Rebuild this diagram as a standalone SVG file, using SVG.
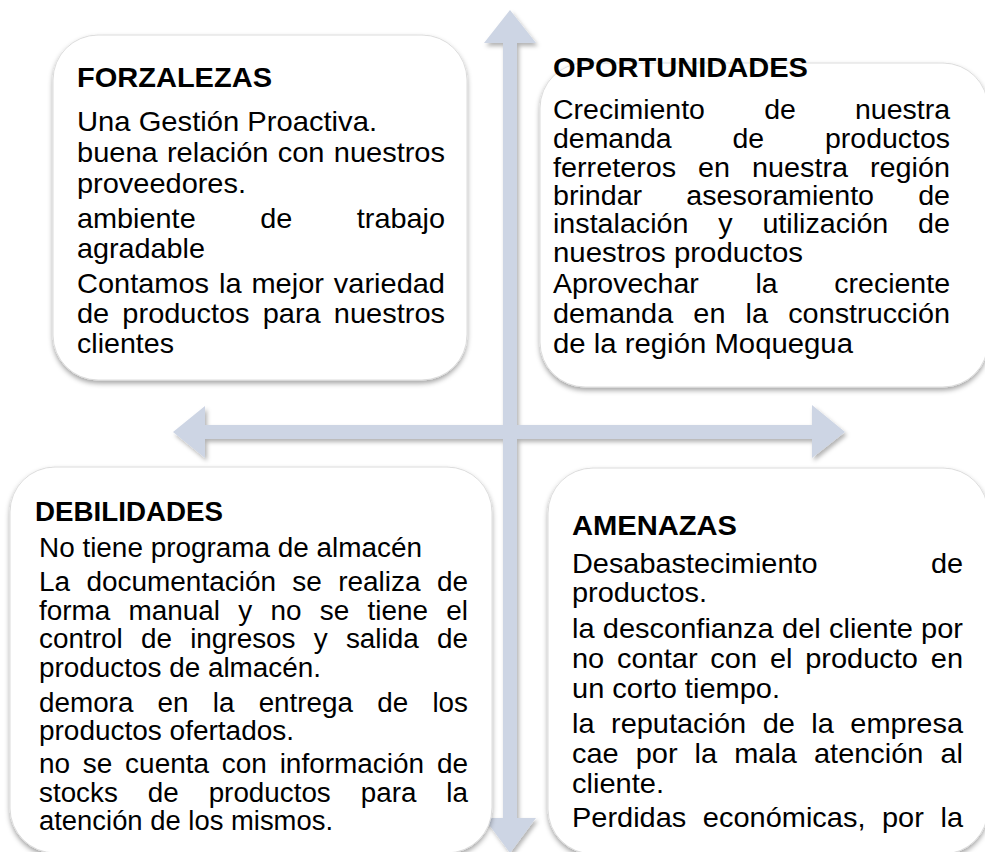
<svg xmlns="http://www.w3.org/2000/svg" width="985" height="852" viewBox="0 0 985 852">
<defs>
<filter id="sh" x="-10%" y="-10%" width="120%" height="120%">
<feDropShadow dx="0" dy="3" stdDeviation="2.5" flood-color="#000" flood-opacity="0.35"/>
</filter>
<filter id="ash" x="-10%" y="-10%" width="120%" height="120%">
<feDropShadow dx="2" dy="3" stdDeviation="2" flood-color="#000" flood-opacity="0.3"/>
</filter>
</defs>
<style>
.box{fill:#fff;stroke:#dcdcdc;stroke-width:1;filter:url(#sh)}
.t{font-family:"Liberation Sans",Arial,sans-serif;font-size:28.5px;fill:#000}
.s{font-size:27px}
.h{font-family:"Liberation Sans",Arial,sans-serif;font-size:28px;font-weight:bold;fill:#000}
</style>
<rect width="985" height="852" fill="#fff"/>
<g id="connectors">
<polygon filter="url(#ash)" fill="#cdd5e4" points="510,10 536,43 517,43 517,425 812,425 812,405 845,432 812,458 812,439 517,439 517,818 536,818 510,853 484,818 503,818 503,439 205,439 205,458 173,432 205,406 205,425 503,425 503,43 484,43"/>
</g>
<g id="fortalezas">
<rect class="box" x="53" y="35" width="414" height="345" rx="45"/>
<text class="h" x="77" y="87" textLength="195" lengthAdjust="spacingAndGlyphs">FORZALEZAS</text>
<text class="t" x="77" y="131" textLength="300" lengthAdjust="spacingAndGlyphs">Una Gestión Proactiva.</text>
<text class="t" x="77" y="162" textLength="368" lengthAdjust="spacingAndGlyphs" word-spacing="1.2">buena relación con nuestros</text>
<text class="t" x="77" y="192.5" textLength="169" lengthAdjust="spacingAndGlyphs">proveedores.</text>
<text class="t" x="77" y="227.7" textLength="368" lengthAdjust="spacingAndGlyphs" word-spacing="55.8">ambiente de trabajo</text>
<text class="t" x="77" y="257.7" textLength="128" lengthAdjust="spacingAndGlyphs">agradable</text>
<text class="t" x="77" y="292.7" textLength="368" lengthAdjust="spacingAndGlyphs" word-spacing="1.8">Contamos la mejor variedad</text>
<text class="t" x="77" y="322.7" textLength="368" lengthAdjust="spacingAndGlyphs" word-spacing="5">de productos para nuestros</text>
<text class="t" x="77" y="352.7" textLength="97" lengthAdjust="spacingAndGlyphs">clientes</text>
</g>
<g id="oportunidades">
<rect class="box" x="540" y="63" width="448" height="324" rx="45"/>
<text class="h" x="553" y="77" textLength="255" lengthAdjust="spacingAndGlyphs">OPORTUNIDADES</text>
<text class="t s" x="553" y="119" textLength="397" lengthAdjust="spacingAndGlyphs" word-spacing="48.6">Crecimiento de nuestra</text>
<text class="t s" x="553" y="148.3" textLength="397" lengthAdjust="spacingAndGlyphs" word-spacing="50.2">demanda de productos</text>
<text class="t s" x="553" y="176.7" textLength="397" lengthAdjust="spacingAndGlyphs" word-spacing="13.1">ferreteros en nuestra región</text>
<text class="t s" x="553" y="205" textLength="397" lengthAdjust="spacingAndGlyphs" word-spacing="34.1">brindar asesoramiento de</text>
<text class="t s" x="553" y="233.3" textLength="397" lengthAdjust="spacingAndGlyphs" word-spacing="20.6">instalación y utilización de</text>
<text class="t s" x="553" y="261.7" textLength="250" lengthAdjust="spacingAndGlyphs">nuestros productos</text>
<text class="t s" x="553" y="293.3" textLength="397" lengthAdjust="spacingAndGlyphs" word-spacing="46.2">Aprovechar la creciente</text>
<text class="t s" x="553" y="323.3" textLength="397" lengthAdjust="spacingAndGlyphs" word-spacing="11.4">demanda en la construcción</text>
<text class="t s" x="553" y="352.7" textLength="300" lengthAdjust="spacingAndGlyphs">de la región Moquegua</text>
</g>
<g id="debilidades">
<rect class="box" x="10" y="467" width="482" height="386" rx="45"/>
<text class="h" x="35" y="521" textLength="188" lengthAdjust="spacingAndGlyphs">DEBILIDADES</text>
<text class="t s" x="39" y="557" textLength="383" lengthAdjust="spacingAndGlyphs">No tiene programa de almacén</text>
<text class="t s" x="39" y="590.7" textLength="429" lengthAdjust="spacingAndGlyphs" word-spacing="8.3">La documentación se realiza de</text>
<text class="t s" x="39" y="620" textLength="429" lengthAdjust="spacingAndGlyphs" word-spacing="10.2">forma manual y no se tiene el</text>
<text class="t s" x="39" y="648" textLength="429" lengthAdjust="spacingAndGlyphs" word-spacing="10.1">control de ingresos y salida de</text>
<text class="t s" x="39" y="677" textLength="282" lengthAdjust="spacingAndGlyphs">productos de almacén.</text>
<text class="t s" x="39" y="712" textLength="429" lengthAdjust="spacingAndGlyphs" word-spacing="16">demora en la entrega de los</text>
<text class="t s" x="39" y="740" textLength="255" lengthAdjust="spacingAndGlyphs">productos ofertados.</text>
<text class="t s" x="39" y="773" textLength="429" lengthAdjust="spacingAndGlyphs" word-spacing="4.8">no se cuenta con información de</text>
<text class="t s" x="39" y="802" textLength="429" lengthAdjust="spacingAndGlyphs" word-spacing="21.6">stocks de productos para la</text>
<text class="t s" x="39" y="830" textLength="294" lengthAdjust="spacingAndGlyphs">atención de los mismos.</text>
</g>
<g id="amenazas">
<rect class="box" x="548" y="468" width="440" height="386" rx="45"/>
<text class="h" x="572" y="535" textLength="165" lengthAdjust="spacingAndGlyphs">AMENAZAS</text>
<text class="t" x="572" y="573" textLength="391" lengthAdjust="spacingAndGlyphs" word-spacing="104">Desabastecimiento de</text>
<text class="t" x="572" y="602" textLength="135" lengthAdjust="spacingAndGlyphs">productos.</text>
<text class="t" x="572" y="638" textLength="391" lengthAdjust="spacingAndGlyphs" word-spacing="0.2">la desconfianza del cliente por</text>
<text class="t" x="572" y="668" textLength="391" lengthAdjust="spacingAndGlyphs" word-spacing="4.7">no contar con el producto en</text>
<text class="t" x="572" y="698" textLength="208" lengthAdjust="spacingAndGlyphs">un corto tiempo.</text>
<text class="t" x="572" y="733" textLength="391" lengthAdjust="spacingAndGlyphs" word-spacing="8.3">la reputación de la empresa</text>
<text class="t" x="572" y="763" textLength="391" lengthAdjust="spacingAndGlyphs" word-spacing="8.9">cae por la mala atención al</text>
<text class="t" x="572" y="793" textLength="92" lengthAdjust="spacingAndGlyphs">cliente.</text>
<text class="t" x="572" y="827" textLength="391" lengthAdjust="spacingAndGlyphs" word-spacing="8.4">Perdidas económicas, por la</text>
</g>
</svg>
